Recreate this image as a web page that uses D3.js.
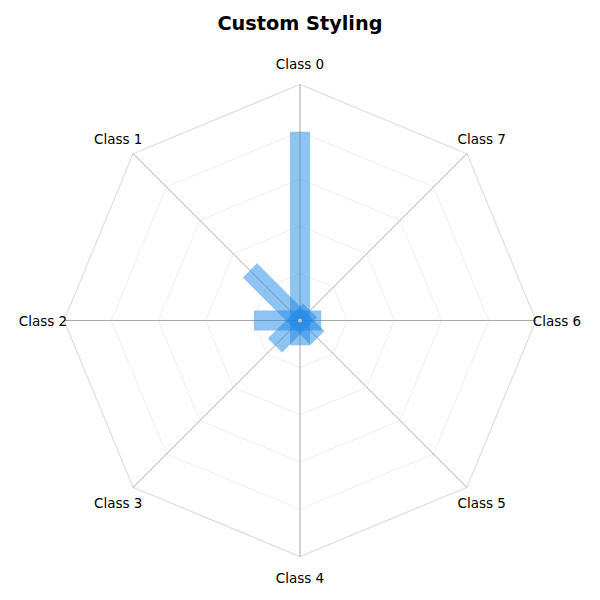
<!DOCTYPE html>
<html>
<head>
<meta charset="utf-8">
<script src="https://cdn.jsdelivr.net/npm/d3@7"></script>
<style>
  body { margin: 0; background: #fff; }
  text { font-family: "DejaVu Sans", sans-serif; }
</style>
</head>
<body>
<script>
var classes = ["Class 0", "Class 1", "Class 2", "Class 3", "Class 4", "Class 5", "Class 6", "Class 7"];
var scores = [0.80, 0.30, 0.195, 0.15, 0.105, 0.105, 0.09, 0.06];
var gridLevels = [0.2, 0.4, 0.6, 0.8, 1.0];

function init () {
  'use strict';
  var w = 600;
  var h = 600;
  var cx = 300;
  var cy = 320.5;
  var outer = 236;
  var barWidth = 20;

  var rScale = d3.scaleLinear()
    .domain([0, 1])
    .range([0, outer]);

  // class i sits at 90deg + i*45deg, going counter-clockwise
  var angle = d3.scaleLinear()
    .domain([0, classes.length])
    .range([Math.PI / 2, Math.PI / 2 + 2 * Math.PI]);

  function px(i, r) { return cx + r * Math.cos(angle(i)); }
  function py(i, r) { return cy - r * Math.sin(angle(i)); }

  var svg = d3.select("body")
    .append("svg")
    .attr("width", w)
    .attr("height", h);

  svg.append("text")
    .attr("x", w / 2)
    .attr("y", 30)
    .attr("text-anchor", "middle")
    .attr("font-size", "19.3px")
    .attr("font-weight", "bold")
    .text("Custom Styling");

  // octagon rings
  svg.selectAll("polygon.ring")
    .data(gridLevels)
    .enter()
    .append("polygon")
    .attr("class", "ring")
    .attr("points", function(d) {
      return classes.map(function(c, i) {
        return px(i, rScale(d)) + "," + py(i, rScale(d));
      }).join(" ");
    })
    .attr("fill", "none")
    .attr("stroke", function(d) { return d === 1 ? "#e0e0e0" : "#efefef"; })
    .attr("stroke-width", function(d) { return d === 1 ? 1.3 : 1; });

  // spokes
  svg.selectAll("line.spoke")
    .data(classes)
    .enter()
    .append("line")
    .attr("class", "spoke")
    .attr("x1", cx)
    .attr("y1", cy)
    .attr("x2", function(d, i) { return px(i, outer); })
    .attr("y2", function(d, i) { return py(i, outer); })
    .attr("stroke", "#a8a8a8")
    .attr("stroke-width", 1);

  // bars
  svg.selectAll("rect.bar")
    .data(scores)
    .enter()
    .append("rect")
    .attr("class", "bar")
    .attr("x", -barWidth / 2)
    .attr("y", function(d) { return -rScale(d); })
    .attr("width", barWidth)
    .attr("height", function(d) { return rScale(d); })
    .attr("transform", function(d, i) {
      return "translate(" + cx + "," + cy + ") rotate(" + (-i * 360 / classes.length) + ")";
    })
    .attr("fill", "#1E88E5")
    .attr("fill-opacity", 0.5);

  svg.append("circle")
    .attr("cx", cx)
    .attr("cy", cy)
    .attr("r", 2)
    .attr("fill", "#c8c8c8");

  // labels
  svg.selectAll("text.label")
    .data(classes)
    .enter()
    .append("text")
    .attr("class", "label")
    .attr("x", function(d, i) { return px(i, 257); })
    .attr("y", function(d, i) { return py(i, 257) + 1; })
    .attr("dy", "0.35em")
    .attr("text-anchor", "middle")
    .attr("font-size", "13.5px")
    .text(function(d) { return d; });
}

window.onload = init;
</script>
</body>
</html>
